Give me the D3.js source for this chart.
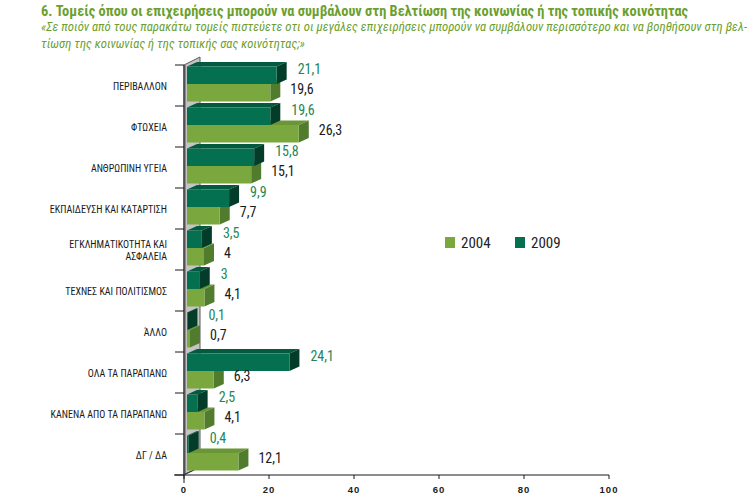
<!DOCTYPE html>
<html><head><meta charset="utf-8">
<script src="https://cdn.jsdelivr.net/npm/d3@7"></script>
<style>
html,body{margin:0;padding:0;background:#fff;}
svg{display:block;}
</style></head>
<body>
<script>
const categories = ["ΠΕΡΙΒΑΛΛΟΝ","ΦΤΩΧΕΙΑ","ΑΝΘΡΩΠΙΝΗ ΥΓΕΙΑ","ΕΚΠΑΙΔΕΥΣΗ ΚΑΙ ΚΑΤΑΡΤΙΣΗ","ΕΓΚΛΗΜΑΤΙΚΟΤΗΤΑ ΚΑΙ|ΑΣΦΑΛΕΙΑ","ΤΕΧΝΕΣ ΚΑΙ ΠΟΛΙΤΙΣΜΟΣ","ΆΛΛΟ","ΟΛΑ ΤΑ ΠΑΡΑΠΑΝΩ","ΚΑΝΕΝΑ ΑΠΟ ΤΑ ΠΑΡΑΠΑΝΩ","ΔΓ / ΔΑ"];
const values2009 = [21.1,19.6,15.8,9.9,3.5,3,0.1,24.1,2.5,0.4];
const values2004 = [19.6,26.3,15.1,7.7,4,4.1,0.7,6.3,4.1,12.1];
const xTicks = [0,20,40,60,80,100];
const seriesNames = ["2004","2009"];
const titleText = "6. Τομείς όπου οι επιχειρήσεις μπορούν να συμβάλουν στη Βελτίωση της κοινωνίας ή της τοπικής κοινότητας";
const subtitleLines = ["«Σε ποιόν από τους παρακάτω τομείς πιστεύετε οτι οι μεγάλες επιχειρήσεις μπορούν να συμβάλουν περισσότερο και να βοηθήσουν στη βελ-","τίωση της κοινωνίας ή της τοπικής σας κοινότητας;»"];

const W=753,H=496;
const FONT = "'Liberation Sans Narrow','Roboto Condensed','Arial Narrow','Liberation Sans',sans-serif";
const C = {
  darkFront:"#05704f", darkTop:"#045a3f", darkSide:"#033d2a",
  lightFront:"#7ba73f", lightTop:"#6a9636", lightSide:"#517c2d",
  title:"#6c9f2f", label09:"#24855a", label04:"#1a1a1a"
};
const svg = d3.select("body").append("svg").attr("width",W).attr("height",H);

const x = d3.scaleLinear().domain([0,100]).range([184,609]);
const y = d3.scaleBand().domain(categories).range([65,475]);
const DX=10, DY=4.5, OFF=3, BH=17.5;
const fmt = v => String(v).replace(".",",");

// titles
svg.append("text").attr("x",41).attr("y",16).attr("fill",C.title)
  .attr("font-family",FONT).attr("font-weight","bold").attr("font-size",14.5)
  .attr("textLength",647).attr("lengthAdjust","spacingAndGlyphs").text(titleText);
subtitleLines.forEach((t,i)=>{
  svg.append("text").attr("x",41).attr("y",31+i*16.5).attr("fill",C.title)
    .attr("font-family",FONT).attr("font-style","italic").attr("font-size",12.5)
    .attr("textLength",i===0?706:264).attr("lengthAdjust","spacingAndGlyphs").text(t);
});

// wall
const x0 = x(0);
const yTop = y.range()[0], yBot = y.range()[1];
svg.append("polygon")
  .attr("points",[[x0,yTop],[x0+16,yTop-8],[x0+16,yBot-8],[x0,yBot]].map(p=>p.join(",")).join(" "))
  .attr("fill","#c4c4c4").attr("stroke","#5a5a5a").attr("stroke-width",1);
svg.append("line").attr("x1",x0+1).attr("x2",x0+1).attr("y1",yTop).attr("y2",yBot)
  .attr("stroke","#8a8a8a").attr("stroke-width",2);
svg.append("line").attr("x1",x0+1).attr("y1",yBot-1).attr("x2",x0+10).attr("y2",yBot-5)
  .attr("stroke","#333").attr("stroke-width",1);

// bars
function bar3d(g, v, top, front, topC, side){
  const bx = x0+OFF, w = x(v)-x0;
  g.append("polygon").attr("points",[[bx,top],[bx+DX,top-DY],[bx+w+DX,top-DY],[bx+w,top]].map(p=>p.join(",")).join(" ")).attr("fill",topC);
  g.append("polygon").attr("points",[[bx+w,top],[bx+w+DX,top-DY],[bx+w+DX,top+BH-DY],[bx+w,top+BH]].map(p=>p.join(",")).join(" ")).attr("fill",side);
  g.append("rect").attr("x",bx).attr("y",top).attr("width",Math.max(w,0.4)).attr("height",BH).attr("fill",front);
}
categories.forEach((c,i)=>{
  const g = svg.append("g");
  const dTop = y(c)+1.5, lTop = y(c)+19;
  bar3d(g, values2004[i], lTop, C.lightFront, C.lightTop, C.lightSide);
  bar3d(g, values2009[i], dTop, C.darkFront, C.darkTop, C.darkSide);
  svg.append("text").attr("x",x(values2009[i])+OFF+DX+11).attr("y",dTop+7.5)
    .attr("fill",C.label09).attr("font-family",FONT).attr("font-size",14).text(fmt(values2009[i]));
  svg.append("text").attr("x",x(values2004[i])+OFF+DX+10).attr("y",lTop+10)
    .attr("fill",C.label04).attr("font-family",FONT).attr("font-size",14).text(fmt(values2004[i]));
});

// category labels
categories.forEach(c=>{
  const lines = c.split("|");
  const cy = y(c)+y.bandwidth()/2+1;
  lines.forEach((t,j)=>{
    svg.append("text").attr("x",167).attr("y",cy+3.5+(j-(lines.length-1)/2)*11.5)
      .attr("text-anchor","end").attr("fill","#1a1a1a").attr("font-family",FONT)
      .attr("font-size",10).text(t);
  });
});

// y axis line & ticks
const ax = svg.append("g").attr("stroke","#1a1a1a").attr("stroke-width",1);
ax.append("line").attr("x1",x0).attr("x2",x0).attr("y1",yTop).attr("y2",yBot+8);
const bounds = categories.map(c=>y(c)).concat([yBot]);
bounds.forEach(b=>ax.append("line").attr("x1",x0-9).attr("x2",x0).attr("y1",b).attr("y2",b));
// x axis
ax.append("line").attr("x1",x0-10).attr("x2",x(100)).attr("y1",yBot).attr("y2",yBot);
xTicks.forEach(t=>ax.append("line").attr("x1",x(t)).attr("x2",x(t)).attr("y1",yBot).attr("y2",yBot+4));
xTicks.forEach(t=>{
  svg.append("text").attr("x",x(t)).attr("y",493).attr("text-anchor","middle")
    .attr("font-family","'Liberation Sans',Arial,sans-serif").attr("font-weight","bold")
    .attr("font-size",9.5).attr("letter-spacing",1).attr("fill","#222").text(t);
});

// legend
const legend = [{n:seriesNames[0],c:C.lightFront,x:445},{n:seriesNames[1],c:C.darkFront,x:515}];
legend.forEach(l=>{
  svg.append("rect").attr("x",l.x).attr("y",237).attr("width",10).attr("height",11).attr("fill",l.c);
  svg.append("text").attr("x",l.x+16).attr("y",248).attr("font-family",FONT).attr("font-size",15)
    .attr("fill","#222").text(l.n);
});
</script>
</body></html>
